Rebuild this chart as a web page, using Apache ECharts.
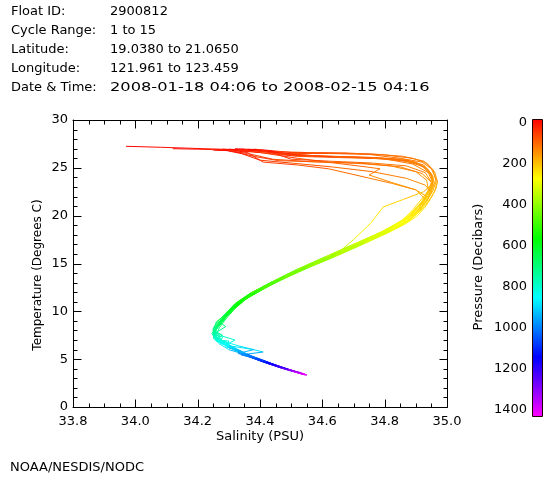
<!DOCTYPE html>
<html><head><meta charset="utf-8">
<script src="https://cdn.jsdelivr.net/npm/echarts@6/dist/echarts.min.js"></script>
<style>html,body{margin:0;padding:0;background:#fff}#c{width:560px;height:480px}</style>
</head><body><div id="c"></div>
<script>
// Each point: [salinity (PSU), temperature (deg C), pressure (dbar)]
const cycle01 = [[33.97,27.25,4],[34.08,27.15,10],[34.22,27.0,20],[34.33,26.9,35],[34.45,26.6,60],[34.60,26.2,95],[34.75,26.1,120],[34.86,25.9,135],[34.925,25.3,150],[34.95,24.4,165],[34.96,23.4,185],[34.95,22.5,205],[34.935,21.5,230],[34.91,20.4,255],[34.88,19.5,275],[34.84,18.8,295],[34.77,17.7,320],[34.69,16.5,350],[34.60,15.2,390],[34.51,14.0,430],[34.43,12.8,470],[34.36,11.6,520],[34.31,10.4,570],[34.28,9.3,620],[34.26,8.4,680],[34.255,7.6,740],[34.27,6.9,800],[34.30,6.3,860],[34.33,5.8,920],[34.36,5.35,980],[34.39,4.95,1040],[34.42,4.6,1100],[34.47,4.1,1200],[34.51,3.7,1300],[34.54,3.38,1390]];
const cycle02 = [[34.12,27.0,5],[34.20,26.95,15],[34.30,26.85,35],[34.40,26.6,55],[34.52,26.2,80],[34.68,26.05,105],[34.82,25.95,125],[34.90,25.6,140],[34.94,24.8,155],[34.955,23.8,175],[34.945,22.8,200],[34.92,21.8,225],[34.89,20.6,250],[34.86,19.6,275],[34.81,18.6,300],[34.74,17.5,325],[34.67,16.4,355],[34.60,15.3,385],[34.52,14.2,425],[34.44,12.9,470],[34.37,11.8,515],[34.32,10.6,565],[34.29,9.5,615],[34.27,8.6,670],[34.25,7.9,720],[34.26,7.2,780],[34.29,6.6,840],[34.31,6.1,890],[34.35,5.6,950],[34.38,5.2,1000],[34.41,4.8,1060],[34.44,4.5,1120],[34.48,4.05,1210],[34.52,3.65,1310],[34.545,3.35,1400]];
const cycle03 = [[34.30,26.95,5],[34.36,26.85,25],[34.42,26.65,50],[34.50,26.5,70],[34.62,26.5,95],[34.75,26.4,115],[34.85,26.0,130],[34.92,25.6,140],[34.95,24.9,150],[34.965,23.8,170],[34.965,22.9,190],[34.95,21.9,215],[34.93,20.9,240],[34.905,20.0,260],[34.87,19.2,280],[34.81,18.2,305],[34.73,17.0,335],[34.64,15.7,375],[34.55,14.5,415],[34.46,13.2,460],[34.39,12.0,505],[34.33,10.8,560],[34.30,9.7,610],[34.27,8.7,660],[34.255,7.8,720],[34.25,7.2,770],[34.27,6.6,830],[34.30,6.0,890],[34.34,5.6,950],[34.37,5.2,1000],[34.40,4.85,1060],[34.43,4.5,1120],[34.47,4.1,1200],[34.51,3.7,1300],[34.54,3.4,1390]];
const cycle04 = [[34.28,26.95,5],[34.33,26.85,25],[34.40,26.6,50],[34.52,26.0,80],[34.64,25.5,100],[34.74,25.1,120],[34.785,24.9,130],[34.75,24.25,140],[34.82,23.5,160],[34.90,22.7,185],[34.925,21.9,210],[34.91,20.7,240],[34.88,19.6,265],[34.83,18.6,295],[34.75,17.4,330],[34.66,16.1,365],[34.57,14.8,405],[34.49,13.6,445],[34.41,12.4,490],[34.35,11.2,540],[34.31,10.1,590],[34.28,9.0,640],[34.26,8.2,690],[34.245,7.7,740],[34.26,7.0,790],[34.30,6.9,820],[34.29,6.3,860],[34.33,5.9,910],[34.36,5.4,970],[34.39,5.0,1030],[34.42,4.65,1090],[34.46,4.2,1180],[34.50,3.8,1280],[34.54,3.4,1390]];
const cycle05 = [[34.32,26.8,5],[34.36,26.6,25],[34.41,25.6,60],[34.52,25.3,85],[34.62,24.9,105],[34.74,24.0,125],[34.82,23.4,145],[34.90,22.7,170],[34.935,22.0,195],[34.92,21.0,225],[34.89,19.9,255],[34.85,18.9,280],[34.78,17.8,315],[34.69,16.5,350],[34.60,15.2,390],[34.51,14.0,430],[34.43,12.7,475],[34.36,11.5,525],[34.31,10.3,575],[34.28,9.2,625],[34.26,8.3,680],[34.25,7.5,740],[34.27,6.8,800],[34.30,6.4,850],[34.33,5.9,910],[34.36,5.45,970],[34.39,5.05,1030],[34.42,4.7,1090],[34.46,4.25,1180],[34.50,3.8,1280],[34.545,3.35,1400]];
const cycle06 = [[34.36,26.9,5],[34.40,26.8,25],[34.50,26.3,60],[34.64,26.15,90],[34.79,26.0,115],[34.89,25.4,135],[34.94,24.5,150],[34.955,23.4,170],[34.925,22.5,200],[34.86,21.7,225],[34.795,20.9,245],[34.755,19.2,275],[34.70,17.5,310],[34.65,16.1,350],[34.57,14.9,395],[34.49,13.7,435],[34.42,12.5,480],[34.36,11.4,525],[34.32,10.3,575],[34.29,9.2,630],[34.27,8.3,685],[34.26,7.6,740],[34.28,6.9,800],[34.31,6.3,860],[34.34,5.8,920],[34.37,5.35,980],[34.40,4.95,1040],[34.43,4.6,1100],[34.47,4.15,1190],[34.51,3.75,1290],[34.545,3.38,1390]];
const cycle07 = [[34.40,26.85,5],[34.44,26.6,35],[34.50,25.9,65],[34.62,25.7,95],[34.76,25.5,120],[34.87,25.2,135],[34.93,24.5,150],[34.95,23.5,175],[34.94,22.5,200],[34.925,21.6,225],[34.90,20.6,250],[34.87,19.7,270],[34.82,18.7,300],[34.74,17.4,330],[34.65,16.0,370],[34.56,14.7,410],[34.47,13.4,450],[34.40,12.2,495],[34.34,11.0,550],[34.30,9.9,600],[34.27,8.9,650],[34.255,8.1,700],[34.26,7.4,760],[34.28,6.9,800],[34.33,6.4,850],[34.41,5.75,900],[34.34,5.45,960],[34.38,5.1,1010],[34.41,4.75,1070],[34.44,4.45,1130],[34.48,4.0,1220],[34.52,3.65,1320],[34.545,3.4,1390]];
const cycle08 = [[34.34,26.95,5],[34.38,26.9,25],[34.45,26.5,60],[34.58,26.25,90],[34.72,26.1,115],[34.84,25.85,130],[34.91,25.4,140],[34.945,24.5,155],[34.955,23.5,180],[34.945,22.6,200],[34.925,21.6,225],[34.895,20.5,255],[34.86,19.5,280],[34.79,18.3,310],[34.70,17.0,345],[34.61,15.7,380],[34.52,14.4,420],[34.44,13.1,465],[34.37,11.9,510],[34.32,10.8,560],[34.29,9.7,610],[34.26,8.9,655],[34.25,8.0,710],[34.28,7.5,760],[34.26,7.0,800],[34.29,6.5,850],[34.32,6.0,900],[34.35,5.55,960],[34.38,5.15,1020],[34.41,4.8,1080],[34.45,4.35,1160],[34.49,3.9,1250],[34.53,3.55,1350],[34.55,3.33,1400]];
const cycle09 = [[34.26,26.9,5],[34.31,26.75,25],[34.38,26.2,55],[34.46,25.75,80],[34.60,25.6,105],[34.74,25.45,125],[34.85,25.1,140],[34.92,24.4,150],[34.95,23.5,170],[34.95,22.5,200],[34.93,21.4,230],[34.90,20.3,255],[34.86,19.3,285],[34.79,18.1,315],[34.71,16.8,350],[34.62,15.5,390],[34.53,14.3,430],[34.45,13.1,470],[34.38,11.9,515],[34.33,10.7,570],[34.30,9.8,610],[34.27,8.9,660],[34.29,8.4,690],[34.26,7.8,730],[34.255,7.1,790],[34.28,6.6,840],[34.32,6.1,895],[34.35,5.65,950],[34.38,5.25,1010],[34.41,4.9,1070],[34.44,4.5,1130],[34.48,4.05,1220],[34.52,3.65,1320],[34.545,3.37,1400]];
const cycle10 = [[34.38,26.95,5],[34.42,26.85,25],[34.50,26.6,55],[34.62,26.55,90],[34.76,26.45,115],[34.86,26.2,130],[34.925,25.7,140],[34.955,24.8,155],[34.965,23.6,175],[34.955,22.6,200],[34.935,21.6,225],[34.91,20.5,250],[34.875,19.5,275],[34.82,18.5,300],[34.74,17.3,330],[34.65,16.0,365],[34.56,14.7,405],[34.48,13.5,445],[34.41,12.3,490],[34.35,11.2,535],[34.31,10.2,585],[34.28,9.3,630],[34.26,8.5,675],[34.25,7.7,735],[34.26,7.1,785],[34.30,6.7,830],[34.30,6.2,875],[34.34,5.7,935],[34.37,5.3,995],[34.40,4.9,1055],[34.43,4.55,1115],[34.47,4.1,1205],[34.51,3.7,1305],[34.54,3.4,1390]];
const cycle11 = [[34.30,26.75,5],[34.34,26.5,25],[34.40,25.8,55],[34.50,25.5,80],[34.63,25.1,105],[34.76,24.6,125],[34.87,23.9,145],[34.93,23.2,165],[34.95,22.4,190],[34.935,21.5,215],[34.905,20.5,245],[34.87,19.6,270],[34.81,18.5,300],[34.73,17.2,335],[34.64,15.9,370],[34.55,14.6,410],[34.47,13.4,450],[34.40,12.2,495],[34.34,11.0,545],[34.30,9.9,595],[34.27,9.0,645],[34.25,8.3,690],[34.25,7.6,740],[34.28,7.3,775],[34.27,6.7,820],[34.31,6.2,880],[34.34,5.75,935],[34.37,5.3,995],[34.40,4.95,1050],[34.43,4.6,1110],[34.47,4.15,1200],[34.51,3.75,1300],[34.545,3.36,1400]];
const cycle12 = [[34.32,27.0,5],[34.35,26.95,20],[34.40,26.8,40],[34.50,26.35,70],[34.64,26.2,100],[34.78,26.05,120],[34.88,25.75,135],[34.93,25.1,145],[34.955,24.1,165],[34.955,23.1,190],[34.94,22.1,215],[34.915,21.0,240],[34.885,20.0,265],[34.84,19.1,290],[34.77,18.0,320],[34.69,16.8,350],[34.61,15.6,385],[34.52,14.3,425],[34.44,13.1,465],[34.37,11.9,515],[34.32,10.8,565],[34.29,9.8,610],[34.26,8.8,665],[34.25,8.0,715],[34.28,7.4,765],[34.32,7.0,800],[34.29,6.5,845],[34.32,6.0,900],[34.35,5.6,955],[34.38,5.2,1015],[34.41,4.85,1075],[34.45,4.4,1150],[34.49,3.95,1240],[34.53,3.55,1350],[34.55,3.35,1400]];
const cycle13 = [[34.36,26.95,5],[34.39,26.9,25],[34.44,26.7,50],[34.55,26.6,80],[34.68,26.55,105],[34.80,26.35,120],[34.89,26.0,135],[34.935,25.5,145],[34.96,24.6,160],[34.97,23.5,180],[34.96,22.5,205],[34.94,21.5,230],[34.915,20.5,250],[34.88,19.6,275],[34.82,18.5,305],[34.73,17.2,340],[34.64,15.9,375],[34.55,14.6,415],[34.46,13.3,455],[34.39,12.1,500],[34.33,10.9,555],[34.30,9.8,605],[34.28,8.9,650],[34.26,8.1,705],[34.255,7.4,760],[34.27,6.8,815],[34.30,6.25,870],[34.33,5.75,925],[34.36,5.35,985],[34.39,4.95,1045],[34.42,4.6,1105],[34.46,4.15,1195],[34.50,3.75,1295],[34.54,3.4,1390]];
const cycle14 = [[34.25,26.85,5],[34.30,26.8,25],[34.36,26.5,50],[34.44,25.9,75],[34.56,25.65,100],[34.70,25.5,120],[34.82,25.2,135],[34.90,24.6,150],[34.935,23.7,170],[34.94,22.7,195],[34.925,21.7,225],[34.895,20.6,250],[34.855,19.5,280],[34.79,18.3,310],[34.70,17.0,345],[34.61,15.7,385],[34.52,14.4,425],[34.44,13.1,465],[34.37,11.9,515],[34.32,10.7,570],[34.29,9.6,615],[34.27,8.7,665],[34.25,7.9,720],[34.27,7.5,755],[34.26,6.9,805],[34.30,6.4,855],[34.38,6.0,890],[34.33,5.6,945],[34.37,5.2,1005],[34.40,4.85,1065],[34.43,4.5,1125],[34.47,4.05,1215],[34.51,3.7,1310],[34.545,3.38,1400]];
const cycle15 = [[34.42,26.8,5],[34.46,26.6,30],[34.53,26.3,60],[34.63,26.15,90],[34.76,26.0,115],[34.87,25.7,130],[34.925,25.1,145],[34.95,24.2,160],[34.955,23.1,180],[34.94,22.1,210],[34.91,21.0,240],[34.88,19.9,265],[34.83,18.9,295],[34.75,17.6,330],[34.66,16.3,365],[34.57,15.0,405],[34.48,13.7,445],[34.41,12.5,490],[34.35,11.3,535],[34.31,10.2,585],[34.28,9.2,635],[34.26,8.4,680],[34.25,7.7,735],[34.27,7.0,795],[34.30,6.5,845],[34.33,6.0,900],[34.36,5.5,960],[34.39,5.1,1020],[34.42,4.75,1080],[34.45,4.4,1140],[34.49,3.95,1235],[34.53,3.6,1340],[34.55,3.35,1400]];
const profiles = [cycle01,cycle02,cycle03,cycle04,cycle05,cycle06,cycle07,cycle08,cycle09,cycle10,cycle11,cycle12,cycle13,cycle14,cycle15];

// Axis ranges and tick positions
const xRange = [33.8, 35.0];
const yRange = [0, 30];
const xMajorTicks = [33.8, 34.0, 34.2, 34.4, 34.6, 34.8, 35.0];
const xMinorTicks = [33.85, 33.9, 33.95, 34.05, 34.1, 34.15, 34.25, 34.3, 34.35, 34.45, 34.5, 34.55, 34.65, 34.7, 34.75, 34.85, 34.9, 34.95];
const yMajorTicks = [0, 5, 10, 15, 20, 25, 30];
const yMinorTicks = [1, 2, 3, 4, 6, 7, 8, 9, 11, 12, 13, 14, 16, 17, 18, 19, 21, 22, 23, 24, 26, 27, 28, 29];
const pressureRange = [0, 1400];

const headerLabels = ['Float ID:', 'Cycle Range:', 'Latitude:', 'Longitude:', 'Date & Time:'];
const headerValues = ['2900812', '1 to 15', '19.0380 to 21.0650', '121.961 to 123.459', '2008-01-18 04:06 to 2008-02-15 04:16'];
const footerText = 'NOAA/NESDIS/NODC';
const xTitle = 'Salinity (PSU)';
const yTitle = 'Temperature (Degrees C)';
const cbTitle = 'Pressure (Decibars)';
const rainbow = ['#ff0000', '#ffff00', '#00ff00', '#00ffff', '#0000ff', '#ff00ff'];

// segments: [s1, t1, s2, t2, meanPressure]
const segments = [];
profiles.forEach(p => {
  for (let i = 0; i < p.length - 1; i++) {
    segments.push([p[i][0], p[i][1], p[i+1][0], p[i+1][1], (p[i][2] + p[i+1][2]) / 2]);
  }
});
// tick rows: [value, 0 = salinity axis / 1 = temperature axis, 1 = major / 0 = minor]
const tickRows = [];
xMajorTicks.forEach(v => tickRows.push([v, 0, 1]));
xMinorTicks.forEach(v => tickRows.push([v, 0, 0]));
yMajorTicks.forEach(v => tickRows.push([v, 1, 1]));
yMinorTicks.forEach(v => tickRows.push([v, 1, 0]));

const FONT = '"DejaVu Sans", sans-serif';

function mainAxis(pos, labels, range, itv, fmt) {
  return {type: 'value', gridIndex: 0, position: pos, min: range[0], max: range[1], interval: itv,
    axisLine: {show: true, onZero: false, lineStyle: {color: '#000', width: 1}},
    axisTick: {show: false}, minorTick: {show: false}, splitLine: {show: false},
    axisLabel: {show: labels, margin: pos === 'bottom' ? 8 : 5, color: '#000', fontSize: 13, fontFamily: FONT, formatter: fmt}};
}

const graphics = [];
headerLabels.forEach((t, i) => {
  graphics.push({type: 'text', z: 50, x: 11, y: 12 + 19 * i, style: {text: t, fill: '#000', font: '13px ' + FONT, textVerticalAlign: 'middle'}});
  graphics.push({type: 'text', z: 50, x: 110, y: 12 + 19 * i, scaleX: i === 4 ? 1.25 : 1, style: {text: headerValues[i], fill: '#000', font: '13px ' + FONT, textVerticalAlign: 'middle'}});
});
graphics.push({type: 'text', z: 50, x: 10, y: 468, style: {text: footerText, fill: '#000', font: '13px ' + FONT, textVerticalAlign: 'middle'}});
graphics.push({type: 'text', z: 50, x: 260, y: 437, style: {text: xTitle, fill: '#000', font: '13px ' + FONT, textAlign: 'center', textVerticalAlign: 'middle'}});
graphics.push({type: 'text', z: 50, x: 38, y: 275, rotation: Math.PI / 2, style: {text: yTitle, fill: '#000', font: '12px ' + FONT, textAlign: 'center', textVerticalAlign: 'middle'}});
graphics.push({type: 'text', z: 50, x: 479, y: 267, rotation: Math.PI / 2, style: {text: cbTitle, fill: '#000', font: '13px ' + FONT, textAlign: 'center', textVerticalAlign: 'middle'}});
graphics.push({type: 'rect', z: 100, shape: {x: 532.5, y: 119.5, width: 10, height: 297}, style: {fill: null, stroke: '#200000', lineWidth: 1}});

const chart = echarts.init(document.getElementById('c'));
chart.setOption({
  animation: false,
  backgroundColor: '#fff',
  grid: [
    {left: 73, top: 120, width: 374, height: 287},
    {left: 532, top: 123, width: 11, height: 287}
  ],
  xAxis: [
    mainAxis('bottom', true, xRange, 0.2, v => v.toFixed(1)),
    mainAxis('top', false, xRange, 0.2),
    {type: 'value', gridIndex: 1, show: false, min: 0, max: 1}
  ],
  yAxis: [
    mainAxis('left', true, yRange, 5, v => String(v)),
    mainAxis('right', false, yRange, 5),
    {type: 'value', gridIndex: 1, position: 'left', min: pressureRange[0], max: pressureRange[1], interval: 200, inverse: true,
      axisLine: {show: false}, axisTick: {show: false}, splitLine: {show: false},
      axisLabel: {margin: 5, color: '#000', fontSize: 13, fontFamily: FONT, formatter: v => String(v)}}
  ],
  visualMap: {
    type: 'continuous', min: pressureRange[0], max: pressureRange[1], dimension: 4, seriesIndex: 0,
    orient: 'vertical', inverse: true, left: 532, top: 119, itemWidth: 11, itemHeight: 298,
    padding: 0, text: null, showLabel: false, calculable: false, hoverLink: false,
    inRange: {color: rainbow}
  },
  series: [{
    type: 'custom',
    xAxisIndex: 0, yAxisIndex: 0,
    encode: {x: [0, 2], y: [1, 3]},
    data: segments,
    renderItem: function (params, api) {
      const a = api.coord([api.value(0), api.value(1)]);
      const b = api.coord([api.value(2), api.value(3)]);
      return {type: 'line', shape: {x1: a[0], y1: a[1], x2: b[0], y2: b[1]},
        style: {stroke: api.visual('color'), lineWidth: 1}};
    }
  }, {
    // inward ticks on all four sides of the plot box, placed through the axes' scales
    type: 'custom',
    xAxisIndex: 0, yAxisIndex: 0,
    z: 5, silent: true,
    encode: {x: 0},
    data: tickRows,
    renderItem: function (params, api) {
      const v = api.value(0), kind = api.value(1), major = api.value(2);
      const L = major ? 8 : 4;
      const st = {stroke: '#000', lineWidth: 1};
      if (kind === 0) {
        const b = api.coord([v, yRange[0]]);
        const t = api.coord([v, yRange[1]]);
        const x = Math.round(b[0]) + 0.5;
        const yb = Math.round(b[1]) + 0.5, yt = Math.round(t[1]) + 0.5;
        return {type: 'group', children: [
          {type: 'line', shape: {x1: x, y1: yb, x2: x, y2: yb - L}, style: st},
          {type: 'line', shape: {x1: x, y1: yt, x2: x, y2: yt + L}, style: st}
        ]};
      }
      const l = api.coord([xRange[0], v]);
      const r = api.coord([xRange[1], v]);
      const y = Math.round(l[1]) + 0.5;
      const xl = Math.round(l[0]) + 0.5, xr = Math.round(r[0]) + 0.5;
      return {type: 'group', children: [
        {type: 'line', shape: {x1: xl, y1: y, x2: xl + L, y2: y}, style: st},
        {type: 'line', shape: {x1: xr, y1: y, x2: xr - L, y2: y}, style: st}
      ]};
    }
  }],
  graphic: graphics
});
</script>
</body></html>
